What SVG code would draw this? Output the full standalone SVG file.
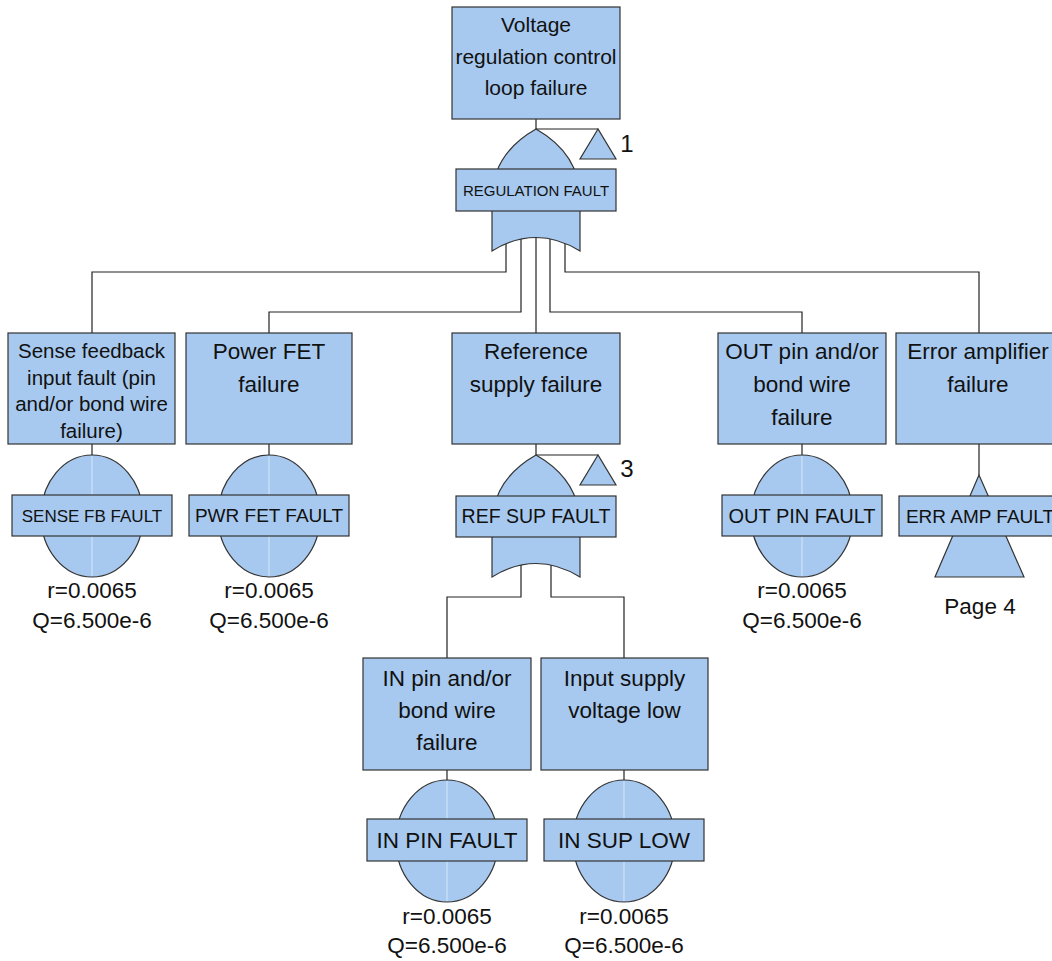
<svg xmlns="http://www.w3.org/2000/svg" width="1052" height="961" viewBox="0 0 1052 961">
<style>
.box{fill:#a7c9ef;stroke:#333;stroke-width:1.2}
.shape{fill:#a7c9ef;stroke:#333;stroke-width:1.2}
.wire{fill:none;stroke:#222;stroke-width:1.2}
.inner{stroke:#d6e6f8;stroke-width:1}
text{font-family:"Liberation Sans",Arial,sans-serif;fill:#111;text-anchor:middle}
.t{font-size:22.5px}
.p{font-size:22.5px}
</style>
<rect width="1052" height="961" fill="#fff"/>
<g id="connectors" class="wire">
<path d="M536,119 V129"/>
<path d="M506,235 V272 H92 V333"/>
<path d="M521,235 V312 H269 V333"/>
<path d="M536,235 V333"/>
<path d="M550,235 V312 H802 V333"/>
<path d="M565,235 V272 H979 V333"/>
<path d="M92,444 V455"/>
<path d="M269,444 V455"/>
<path d="M536,444 V455"/>
<path d="M802,444 V455"/>
<path d="M979,444 V475"/>
<path d="M521,560 V597 H447 V658"/>
<path d="M551,560 V597 H624 V658"/>
<path d="M447,770 V780"/>
<path d="M624,770 V780"/>
</g>
<g id="top-event">
<rect class="box" x="452" y="7" width="168" height="112"/>
<text class="t" x="536" y="32" style="font-size:21px">Voltage</text>
<text class="t" x="536" y="64" style="font-size:21px">regulation control</text>
<text class="t" x="536" y="95" style="font-size:21px">loop failure</text>
</g>
<g id="gate-regulation">
<path class="wire" d="M536,129 H598"/>
<polygon class="shape" points="598,129 580,159 616,159"/>
<text x="627" y="152" style="font-size:24px">1</text>
<path class="shape" d="M492,251 L492,199 Q492,154 536,129 Q580,154 580,199 L580,251 Q536,224 492,251 Z"/>
<rect class="box" x="456" y="169" width="160" height="42"/>
<text x="536" y="195.5" style="font-size:15px">REGULATION FAULT</text>
</g>
<g id="sense-fb">
<rect class="box" x="8" y="333" width="167" height="111"/>
<text x="91.5" y="358" style="font-size:20.5px">Sense feedback</text>
<text x="91.5" y="384.5" style="font-size:20.5px">input fault (pin</text>
<text x="91.5" y="411" style="font-size:20.5px">and/or bond wire</text>
<text x="91.5" y="437.5" style="font-size:20.5px">failure)</text>
<ellipse class="shape" cx="92" cy="516" rx="51" ry="61"/>
<line class="inner" x1="92" y1="456" x2="92" y2="576"/>
<rect class="box" x="12" y="495" width="160" height="41"/>
<text x="92" y="521.5" style="font-size:17px">SENSE FB FAULT</text>
<text class="p" x="92" y="598">r=0.0065</text>
<text class="p" x="92" y="628">Q=6.500e-6</text>
</g>
<g id="pwr-fet">
<rect class="box" x="186" y="333" width="166" height="111"/>
<text class="t" x="269" y="359">Power FET</text>
<text class="t" x="269" y="392">failure</text>
<ellipse class="shape" cx="269" cy="516" rx="51" ry="61"/>
<line class="inner" x1="269" y1="456" x2="269" y2="576"/>
<rect class="box" x="189" y="495" width="160" height="41"/>
<text x="269" y="522" style="font-size:19px">PWR FET FAULT</text>
<text class="p" x="269" y="598">r=0.0065</text>
<text class="p" x="269" y="628">Q=6.500e-6</text>
</g>
<g id="ref-sup">
<rect class="box" x="452" y="333" width="168" height="111"/>
<text class="t" x="536" y="359">Reference</text>
<text class="t" x="536" y="392">supply failure</text>
</g>
<g id="gate-ref-sup">
<path class="wire" d="M536,455 H598"/>
<polygon class="shape" points="598,455 580,485 616,485"/>
<text x="627" y="477" style="font-size:24px">3</text>
<path class="shape" d="M492,577 L492,525 Q492,480 536,455 Q580,480 580,525 L580,577 Q536,550 492,577 Z"/>
<rect class="box" x="456" y="496" width="160" height="41"/>
<text x="536" y="523" style="font-size:19.5px">REF SUP FAULT</text>
</g>
<g id="out-pin">
<rect class="box" x="718" y="333" width="168" height="111"/>
<text class="t" x="802" y="359">OUT pin and/or</text>
<text class="t" x="802" y="392">bond wire</text>
<text class="t" x="802" y="425">failure</text>
<ellipse class="shape" cx="802" cy="516" rx="51" ry="61"/>
<line class="inner" x1="802" y1="456" x2="802" y2="576"/>
<rect class="box" x="722" y="495" width="160" height="41"/>
<text x="802" y="523" style="font-size:20px">OUT PIN FAULT</text>
<text class="p" x="802" y="598">r=0.0065</text>
<text class="p" x="802" y="628">Q=6.500e-6</text>
</g>
<g id="err-amp">
<rect class="box" x="896" y="333" width="168" height="111"/>
<text class="t" x="978" y="359">Error amplifier</text>
<text class="t" x="978" y="392">failure</text>
<polygon class="shape" points="979,475 935,577 1024,577"/>
<rect class="box" x="899" y="496" width="160" height="40"/>
<text x="980" y="523" style="font-size:19px">ERR AMP FAULT</text>
<text class="p" x="980" y="614">Page 4</text>
</g>
<g id="in-pin">
<rect class="box" x="363" y="658" width="168" height="112"/>
<text class="t" x="447" y="686">IN pin and/or</text>
<text class="t" x="447" y="718">bond wire</text>
<text class="t" x="447" y="750">failure</text>
<ellipse class="shape" cx="447" cy="841" rx="51" ry="61"/>
<line class="inner" x1="447" y1="781" x2="447" y2="901"/>
<rect class="box" x="367" y="819" width="160" height="42"/>
<text x="447" y="848" style="font-size:22.5px">IN PIN FAULT</text>
<text class="p" x="447" y="924">r=0.0065</text>
<text class="p" x="447" y="953">Q=6.500e-6</text>
</g>
<g id="in-sup">
<rect class="box" x="541" y="658" width="167" height="112"/>
<text class="t" x="624.5" y="686">Input supply</text>
<text class="t" x="624.5" y="718">voltage low</text>
<ellipse class="shape" cx="624" cy="841" rx="51" ry="61"/>
<line class="inner" x1="624" y1="781" x2="624" y2="901"/>
<rect class="box" x="544" y="819" width="160" height="42"/>
<text x="624" y="848" style="font-size:22.5px">IN SUP LOW</text>
<text class="p" x="624" y="924">r=0.0065</text>
<text class="p" x="624" y="953">Q=6.500e-6</text>
</g>
</svg>
